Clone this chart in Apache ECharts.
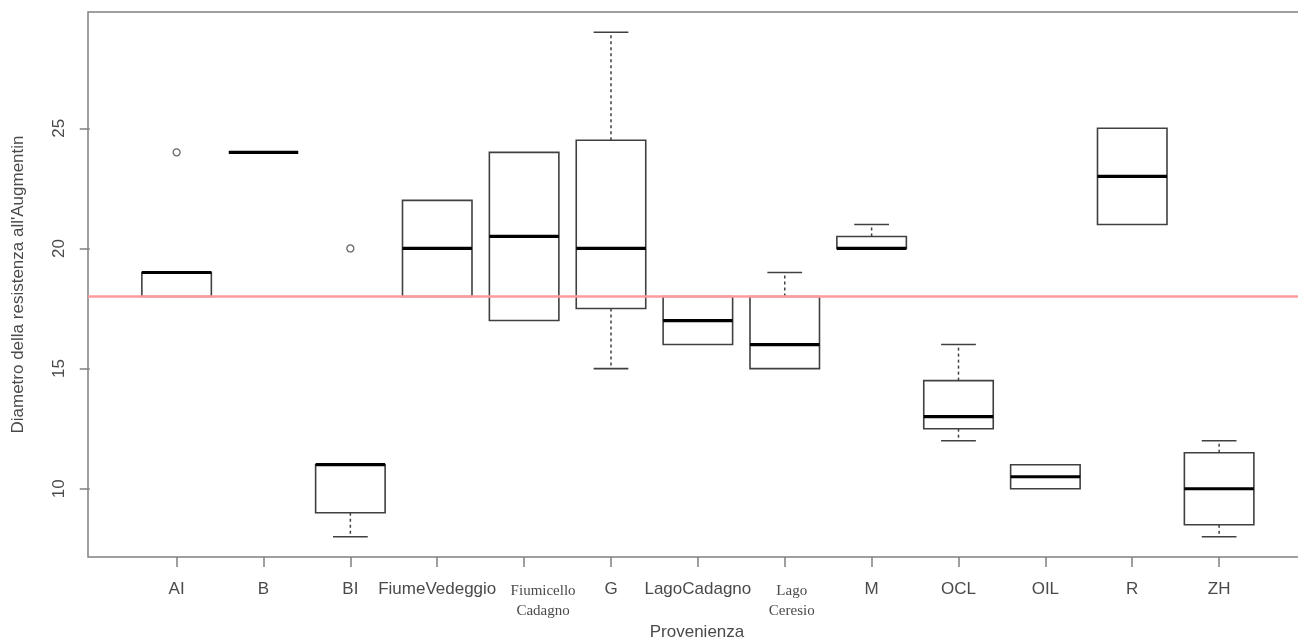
<!DOCTYPE html>
<html>
<head>
<meta charset="utf-8">
<script src="https://cdn.jsdelivr.net/npm/echarts@6/dist/echarts.min.js"></script>
<style>html,body{margin:0;padding:0;background:#fff;}#c{width:1298px;height:641px;}</style>
</head>
<body>
<div id="c"></div>
<script>
// Categories (x axis)
const categories = ['AI','B','BI','FiumeVedeggio','Fiumicello\nCadagno','G','LagoCadagno','Lago\nCeresio','M','OCL','OIL','R','ZH'];
// Box statistics: [lower whisker, Q1, median, Q3, upper whisker]
const lowerWhisker = [18, 24,  8, 18, 17,   15, 16, 15, 20,   12,   10, 21,  8];
const q1Values     = [18, 24,  9, 18, 17,   17.5, 16, 15, 20, 12.5, 10, 21,  8.5];
const medianValues = [19, 24, 11, 20, 20.5, 20, 17, 16, 20,   13,   10.5, 23, 10];
const q3Values     = [19, 24, 11, 22, 24,   24.5, 18, 18, 20.5, 14.5, 11, 25, 11.5];
const upperWhisker = [19, 24, 11, 22, 24,   29, 18, 19, 21,   16,   11, 25, 12];
// Outliers
const outlierCategories = ['AI', 'BI'];
const outlierValues = [24, 20];
// Reference line
const threshold = 18;
// Y tick labels
const yTicks = [10, 15, 20, 25];

const positions = categories.map((_, i) => i + 1);
const boxData = categories.map((c, i) => [positions[i], lowerWhisker[i], q1Values[i], medianValues[i], q3Values[i], upperWhisker[i]]);
const outlierData = outlierCategories.map((c, i) => [categories.indexOf(c) + 1, outlierValues[i]]);

const chart = echarts.init(document.getElementById('c'), null, {renderer: 'canvas'});

const boxColor = '#404040';
function renderItem(params, api) {
  const x = api.value(0);
  const lo = api.value(1), q1 = api.value(2), med = api.value(3), q3 = api.value(4), hi = api.value(5);
  const pMed = api.coord([x, med]);
  const cx = pMed[0];
  const hw = api.size([0.8, 0])[0] / 2;
  const yLo = api.coord([x, lo])[1], yQ1 = api.coord([x, q1])[1], yQ3 = api.coord([x, q3])[1], yHi = api.coord([x, hi])[1];
  const children = [];
  if (q3 > q1) {
    children.push({type: 'rect', shape: {x: cx - hw, y: yQ3, width: 2 * hw, height: yQ1 - yQ3},
      style: {fill: 'none', stroke: boxColor, lineWidth: 1.6}});
  }
  if (hi > q3) {
    children.push({type: 'line', shape: {x1: cx, y1: yQ3, x2: cx, y2: yHi}, style: {stroke: boxColor, lineWidth: 1.5, lineDash: [3, 3]}});
    children.push({type: 'line', shape: {x1: cx - hw / 2, y1: yHi, x2: cx + hw / 2, y2: yHi}, style: {stroke: boxColor, lineWidth: 1.6}});
  }
  if (lo < q1) {
    children.push({type: 'line', shape: {x1: cx, y1: yQ1, x2: cx, y2: yLo}, style: {stroke: boxColor, lineWidth: 1.5, lineDash: [3, 3]}});
    children.push({type: 'line', shape: {x1: cx - hw / 2, y1: yLo, x2: cx + hw / 2, y2: yLo}, style: {stroke: boxColor, lineWidth: 1.6}});
  }
  children.push({type: 'line', shape: {x1: cx - hw, y1: pMed[1], x2: cx + hw, y2: pMed[1]}, style: {stroke: '#000', lineWidth: 3.2}});
  return {type: 'group', children: children};
}

const textColor = '#4a4a4a';
const frameColor = '#808080';
const serifBase = {fontFamily: 'Liberation Serif', fontSize: 15, lineHeight: 20, color: textColor};

chart.setOption({
  animation: false,
  backgroundColor: '#fff',
  grid: {left: 88, top: 12, width: 1218, height: 545, show: true, borderColor: frameColor, borderWidth: 1.5,
    containLabel: false, outerBoundsMode: 'none'},
  xAxis: {
    type: 'value', min: -0.02, max: 14.0,
    name: 'Provenienza', nameLocation: 'middle', nameGap: 67,
    nameTextStyle: {fontFamily: 'Liberation Sans', fontSize: 17, color: textColor},
    axisLine: {show: false},
    splitLine: {show: false},
    axisTick: {show: true, length: 10, customValues: positions, lineStyle: {color: frameColor, width: 1.5}},
    axisLabel: {
      customValues: positions, margin: 24,
      fontFamily: 'Liberation Sans', fontSize: 17, color: textColor,
      formatter: function (v) {
        const name = categories[Math.round(v) - 1];
        if (!name) return '';
        if (name.indexOf('\n') >= 0) {
          const st = name.indexOf('Fiumicello') === 0 ? 'a' : 'b';
          return name.split('\n').map(s => '{' + st + '|' + s + '}').join('\n');
        }
        return name;
      },
      rich: {
        a: Object.assign({}, serifBase, {padding: [0, 0, 0, 38]}),
        b: Object.assign({}, serifBase, {padding: [0, 0, 0, 14]})
      }
    }
  },
  yAxis: {
    type: 'value', min: 7.16, max: 29.84,
    name: "Diametro della resistenza all'Augmentin", nameLocation: 'middle', nameGap: 61,
    nameTextStyle: {fontFamily: 'Liberation Sans', fontSize: 17, color: textColor},
    axisLine: {show: false},
    splitLine: {show: false},
    axisTick: {show: true, length: 10, customValues: yTicks, lineStyle: {color: frameColor, width: 1.5}},
    axisLabel: {customValues: yTicks, rotate: 90, margin: 20, fontFamily: 'Liberation Sans', fontSize: 17, color: textColor}
  },
  series: [
    {
      type: 'scatter', z: 1, data: outlierData, symbol: 'circle', symbolSize: 7,
      itemStyle: {color: '#fff', borderColor: boxColor, borderWidth: 1.3},
      markLine: {silent: true, symbol: 'none', label: {show: false},
        lineStyle: {color: '#ff9a9a', width: 2.5, type: 'solid'},
        data: [{yAxis: threshold}]}
    },
    {
      type: 'custom', z: 3, renderItem: renderItem, data: boxData,
      encode: {x: 0, y: [1, 2, 3, 4, 5]}
    }
  ]
});
</script>
</body>
</html>
